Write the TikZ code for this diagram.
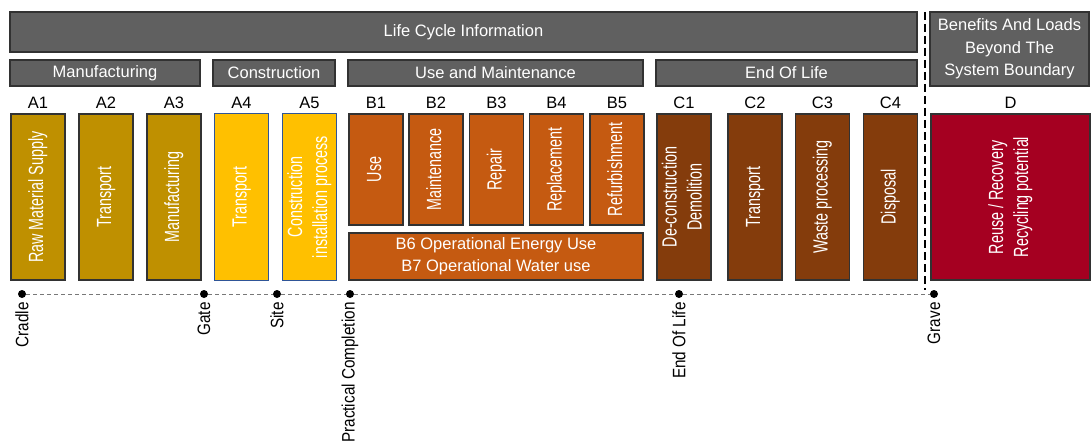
\documentclass[tikz,border=0pt]{standalone}
\usepackage{fontspec}
\setmainfont{Liberation Sans}
\usetikzlibrary{positioning}
\definecolor{hdrgray}{RGB}{96,96,96}
\definecolor{hdrline}{RGB}{50,50,50}
\definecolor{prodgold}{RGB}{191,144,0}
\definecolor{constyellow}{RGB}{255,192,0}
\definecolor{constline}{RGB}{47,85,151}
\definecolor{useorange}{RGB}{197,90,17}
\definecolor{eolbrown}{RGB}{132,60,12}
\definecolor{beyondred}{RGB}{165,0,33}
\definecolor{lineGray}{RGB}{120,120,120}
% upright, narrow text inside the module boxes
\newcommand{\vtext}[1]{\rotatebox{90}{\scalebox{0.7}[1]{\begin{tabular}{@{}c@{}}#1\end{tabular}}}}
\newcommand{\mstext}[1]{\rotatebox{90}{\scalebox{0.85}[1]{#1}}}

\begin{document}
\begin{tikzpicture}[
    x=1pt, y=-1pt,
    header/.style={draw=hdrline, line width=1.2pt, fill=hdrgray, text=white,
        font=\fontsize{16.5}{22.5}\selectfont, inner sep=0pt, align=center},
    stage/.style={draw=hdrline, line width=1.2pt, text=white, inner sep=0pt,
        minimum width=54pt, minimum height=166pt, font=\fontsize{20.5}{25}\selectfont},
    usestage/.style={stage, fill=useorange, minimum height=111pt},
    modlabel/.style={font=\fontsize{16.5}{20}\selectfont, above=1pt of #1},
    milestone/.style={circle, fill=black, inner sep=0pt, minimum size=8pt},
    mslabel/.style={font=\fontsize{18}{20}\selectfont, inner sep=0pt, below=4pt of #1}
]
    \useasboundingbox (0,0) rectangle (1091,441);

    % Headers
    \node[header, minimum width=907pt, minimum height=40pt] (lci) at (463.5,32) {Life Cycle Information};
    \node[header, minimum width=159pt, minimum height=74pt] (beyond) at (1009.5,49)
        {Benefits And Loads\\Beyond The\\System Boundary};
    \node[header, minimum width=190pt, minimum height=26pt] (manuf) at (105,73) {Manufacturing};
    \node[header, minimum width=122pt, minimum height=26pt] (constr) at (274,73) {Construction};
    \node[header, minimum width=295pt, minimum height=26pt] (usemaint) at (495.5,73) {Use and Maintenance};
    \node[header, minimum width=261pt, minimum height=26pt] (endlife) at (786.5,73) {End Of Life};

    % Product stage
    \node[stage, fill=prodgold] (a1) at (38,197) {\vtext{Raw Material Supply}};
    \node[stage, fill=prodgold] (a2) at (106,197) {\vtext{Transport}};
    \node[stage, fill=prodgold] (a3) at (174,197) {\vtext{Manufacturing}};

    % Construction stage
    \node[stage, fill=constyellow, draw=constline, line width=1pt] (a4) at (241.5,197) {\vtext{Transport}};
    \node[stage, fill=constyellow, draw=constline, line width=1pt] (a5) at (309.5,197) {\vtext{Construction\\installation process}};

    % Use stage
    \node[usestage] (b1) at (376,169.5) {\vtext{Use}};
    \node[usestage] (b2) at (436,169.5) {\vtext{Maintenance}};
    \node[usestage] (b3) at (496.5,169.5) {\vtext{Repair}};
    \node[usestage] (b4) at (556.5,169.5) {\vtext{Replacement}};
    \node[usestage] (b5) at (617,169.5) {\vtext{Refurbishment}};
    \node[stage, fill=useorange, minimum width=294pt, minimum height=47pt, align=center,
        font=\fontsize{16.5}{22}\selectfont] (b67) at (496,256.5)
        {B6 Operational Energy Use\\B7 Operational Water use};

    % End of life stage
    \node[stage, fill=eolbrown] (c1) at (684,197) {\vtext{De-construction\\Demolition}};
    \node[stage, fill=eolbrown] (c2) at (755,197) {\vtext{Transport}};
    \node[stage, fill=eolbrown] (c3) at (822.5,197) {\vtext{Waste processing}};
    \node[stage, fill=eolbrown] (c4) at (890.5,197) {\vtext{Disposal}};

    % Beyond the system boundary
    \node[stage, fill=beyondred, minimum width=159pt] (d) at (1010.5,197) {\vtext{Reuse / Recovery\\Recycling potential}};

    % Module codes
    \node[modlabel=a1] {A1};
    \node[modlabel=a2] {A2};
    \node[modlabel=a3] {A3};
    \node[modlabel=a4] {A4};
    \node[modlabel=a5] {A5};
    \node[modlabel=b1] {B1};
    \node[modlabel=b2] {B2};
    \node[modlabel=b3] {B3};
    \node[modlabel=b4] {B4};
    \node[modlabel=b5] {B5};
    \node[modlabel=c1] {C1};
    \node[modlabel=c2] {C2};
    \node[modlabel=c3] {C3};
    \node[modlabel=c4] {C4};
    \node[modlabel=d] {D};

    % System boundary
    \coordinate (sepTop) at (925,12);
    \coordinate (sepBot) at (925,290);
    \draw[line width=2pt, dash pattern=on 8pt off 4pt] (sepTop) -- (sepBot);

    % Timeline
    \node[milestone] (cradle) at (22,294) {};
    \node[milestone] (gate) at (204,294) {};
    \node[milestone] (site) at (277,294) {};
    \node[milestone] (pc) at (350,294) {};
    \node[milestone] (eol) at (679,294) {};
    \node[milestone] (grave) at (934,294) {};
    \draw[lineGray, line width=1pt, dash pattern=on 4pt off 3pt]
        (cradle) -- (gate) -- (site) -- (pc) -- (eol) -- (grave);

    \node[mslabel=cradle] {\mstext{Cradle}};
    \node[mslabel=gate] {\mstext{Gate}};
    \node[mslabel=site] {\mstext{Site}};
    \node[mslabel=pc] {\mstext{Practical Completion}};
    \node[mslabel=eol] {\mstext{End Of Life}};
    \node[mslabel=grave] {\mstext{Grave}};
\end{tikzpicture}
\end{document}
